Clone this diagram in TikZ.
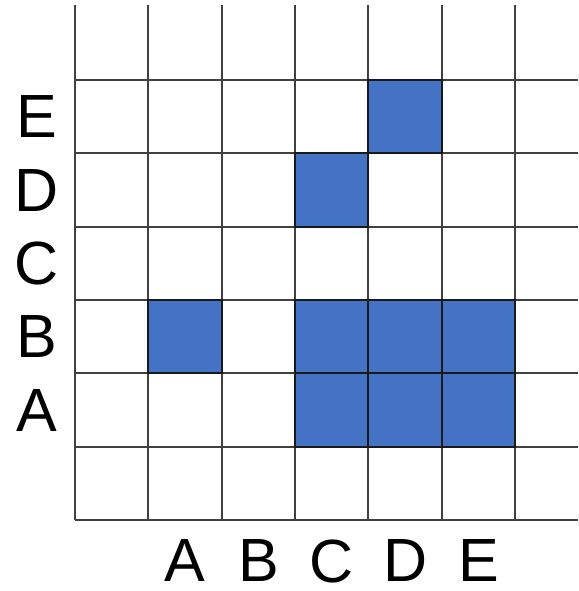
\documentclass[tikz,border=0pt]{standalone}
\usepackage{fontspec}
\setmainfont{Liberation Sans}
\definecolor{cellblue}{HTML}{4472C4}

\begin{document}
\begin{tikzpicture}[
  x=1pt, y=-1pt,
  gridline/.style={draw=black!75, line width=2pt},
  cell/.style={fill=cellblue, draw=black!90, line width=2pt},
  lbl/.style={font=\fontsize{61}{61}\selectfont, inner sep=0pt}
]
\useasboundingbox (0,0) rectangle (578,591);

% grid
\foreach \i in {0,...,6}
  \draw[gridline] (75+73.33*\i,5) -- (75+73.33*\i,520);
\foreach \j in {0,...,6}
  \draw[gridline] (75,80+73.33*\j) -- (578,80+73.33*\j);

% filled cells (column, row)
\foreach \c/\r in {4/0, 3/1, 1/3, 3/3, 4/3, 5/3, 3/4, 4/4, 5/4}
  \draw[cell] (75+73.33*\c,80+73.33*\r) rectangle ++(73.33,73.33);

% row labels
\foreach \t [count=\k from 0] in {E,D,C,B,A}
  \node[lbl] (row\t) at (37,116.7+73.33*\k) {\t};

% column labels
\foreach \t [count=\k from 1] in {A,B,C,D,E}
  \node[lbl] (col\t) at (75+73.33*\k+36.7,561) {\t};
\end{tikzpicture}
\end{document}
